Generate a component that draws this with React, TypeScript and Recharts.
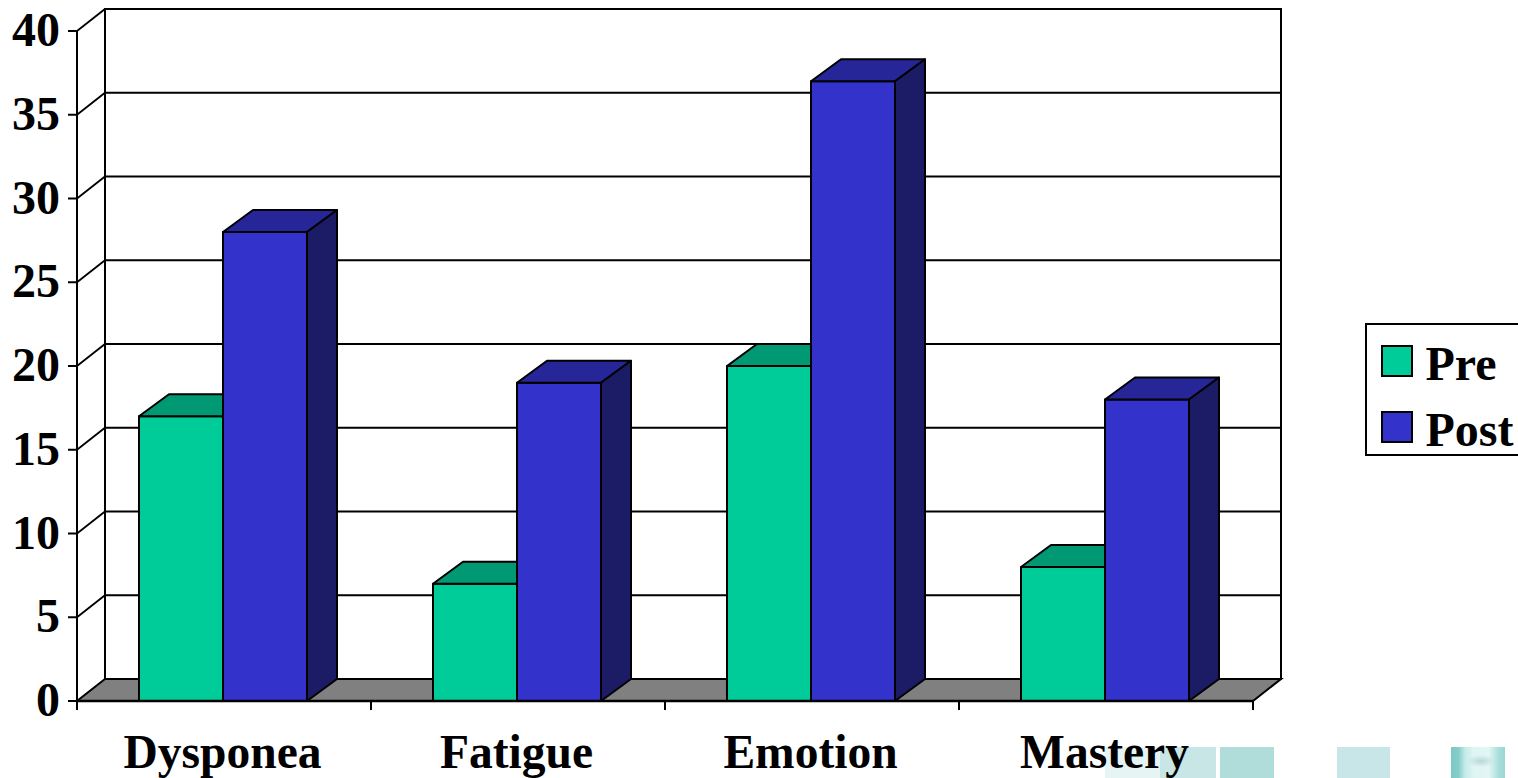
import { Bar, BarChart, Legend, ReferenceArea, ReferenceLine, XAxis, YAxis } from "recharts"

const categories = ["Dysponea", "Fatigue", "Emotion", "Mastery"]
const preValues = [17, 7, 20, 8]
const postValues = [28, 19, 37, 18]
const valueTicks = [0, 5, 10, 15, 20, 25, 30, 35, 40]
const categoryEdges = [0, 1, 2, 3, 4]

const data = categories.map((name, i) => ({ name, index: i, pre: preValues[i], post: postValues[i] }))

const FONT = "'Liberation Serif', 'Times New Roman', serif"
const LABEL = { fontFamily: FONT, fontSize: 48, fontWeight: 700, fill: "#000" }

// depth of the fake 3D box
const WALL_DX = 28
const WALL_DY = 22
const BAR_DX = 30
const BAR_DY = 22

const box = (top: string, side: string) => (props: any) => {
  const { x, y, width, height, fill } = props
  const left = x - 1
  const right = left + width
  const bottom = y + height
  return (
    <g stroke="#000" strokeWidth={2} strokeLinejoin="round">
      <rect x={left} y={y} width={width} height={height} fill={fill} />
      <polygon
        points={`${left},${y} ${left + BAR_DX},${y - BAR_DY} ${right + BAR_DX},${y - BAR_DY} ${right},${y}`}
        fill={top}
      />
      <polygon
        points={`${right},${y} ${right + BAR_DX},${y - BAR_DY} ${right + BAR_DX},${bottom - BAR_DY} ${right},${bottom}`}
        fill={side}
      />
    </g>
  )
}

const backWall = (props: any) => (
  <rect
    x={props.x + WALL_DX}
    y={props.y - WALL_DY}
    width={props.width}
    height={props.height}
    fill="#fff"
    stroke="#000"
    strokeWidth={2}
  />
)

const floor = (props: any) => {
  const { x1, y1, x2 } = props
  return (
    <polygon
      points={`${x1},${y1} ${x2},${y1} ${x2 + WALL_DX},${y1 - WALL_DY} ${x1 + WALL_DX},${y1 - WALL_DY}`}
      fill="#808080"
      stroke="#000"
      strokeWidth={2}
    />
  )
}

// grid line on the back wall plus its diagonal on the side wall
const gridLine = (props: any) => {
  const { x1, y1, x2 } = props
  return (
    <path
      d={`M${x1} ${y1}L${x1 + WALL_DX} ${y1 - WALL_DY}H${x2 + WALL_DX}`}
      fill="none"
      stroke="#000"
      strokeWidth={1.8}
    />
  )
}

// category separators hang below the axis line, not at the band centres
const edgeTick = (props: any) => {
  const bottom = Math.max(props.y1, props.y2)
  return <line x1={props.x1} x2={props.x1} y1={bottom} y2={bottom + 9} stroke="#000" strokeWidth={2} />
}

const legendContent = ({ payload }: any) => (
  <div
    style={{
      boxSizing: "border-box",
      width: 156,
      height: 133,
      paddingTop: 3,
      background: "#fff",
      border: "2px solid #000",
      fontFamily: FONT,
      fontSize: 48,
      fontWeight: 700,
      color: "#000",
    }}
  >
    {(payload ?? []).map((item: any) => (
      <div key={item.value} style={{ display: "flex", alignItems: "center", height: 66, marginLeft: 13.5 }}>
        <span
          style={{
            boxSizing: "border-box",
            width: 32,
            height: 32,
            marginRight: 13,
            background: item.color,
            border: "2px solid #000",
          }}
        />
        <span style={{ lineHeight: "48px", position: "relative", top: 3 }}>{item.value}</span>
      </div>
    ))}
  </div>
)

// pale slide tiles along the bottom edge, under the chart
const tiles = [
  { left: 1105, width: 55, background: "#e6f5f4" },
  { left: 1160, width: 56, background: "#c9e6e6" },
  { left: 1220, width: 54, background: "#b0dcd9" },
  { left: 1337, width: 53, background: "#c8e6e7" },
  {
    left: 1451,
    width: 54,
    background:
      "radial-gradient(ellipse 14px 6px at 30px 14px, #b5d8d6 0%, rgba(181,216,214,0) 100%), " +
      "linear-gradient(90deg, #7cc8c6 0%, #86cdca 14%, #c4ebe8 26%, #dff5f3 42%, #e2f6f4 70%, #a8dedb 88%, #9ad6d3 100%)",
  },
]

export default function App() {
  return (
    <div style={{ position: "absolute", left: 0, top: 0, width: 1518, height: 778, overflow: "hidden", background: "#fff" }}>
      {tiles.map((t) => (
        <div key={t.left} style={{ position: "absolute", top: 747, height: 31, left: t.left, width: t.width, background: t.background }} />
      ))}
      <div style={{ position: "absolute", left: 0, top: 0 }}>
        <BarChart
          width={1518}
          height={778}
          data={data}
          barSize={84}
          barGap={0}
          margin={{ top: 31, right: 109, bottom: 0, left: 0 }}
        >
          <XAxis xAxisId="edges" dataKey="index" type="number" domain={[0, 4]} allowDataOverflow hide />
          <XAxis
            dataKey="name"
            height={77}
            tick={{ ...LABEL, fontSize: 47.5, dx: -1.5 }}
            tickLine={false}
            tickSize={0}
            tickMargin={33}
            interval={0}
            axisLine={{ stroke: "#000", strokeWidth: 2.4 }}
          />
          <YAxis
            domain={[0, 40]}
            ticks={valueTicks}
            width={77}
            interval={0}
            tick={{ ...LABEL, dy: -2 }}
            tickSize={9}
            tickMargin={8}
            tickLine={{ stroke: "#000", strokeWidth: 2 }}
            axisLine={{ stroke: "#000", strokeWidth: 2 }}
          />
          <ReferenceArea y1={0} y2={40} shape={backWall} zIndex={-30} />
          {valueTicks.slice(1).map((v) => (
            <ReferenceLine key={v} y={v} shape={gridLine} zIndex={-20} />
          ))}
          <ReferenceLine y={0} shape={floor} zIndex={-10} />
          {categoryEdges.map((v) => (
            <ReferenceLine key={v} xAxisId="edges" x={v} shape={edgeTick} />
          ))}
          <Bar dataKey="pre" name="Pre" fill="#00CC99" shape={box("#009973", "#006B50")} isAnimationActive={false} />
          <Bar dataKey="post" name="Post" fill="#3333CC" shape={box("#262699", "#1B1B66")} isAnimationActive={false} />
          <Legend
            layout="vertical"
            align="right"
            verticalAlign="middle"
            itemSorter={null}
            content={legendContent}
            wrapperStyle={{ left: 1365, top: 323, width: 156 }}
          />
        </BarChart>
      </div>
    </div>
  )
}
